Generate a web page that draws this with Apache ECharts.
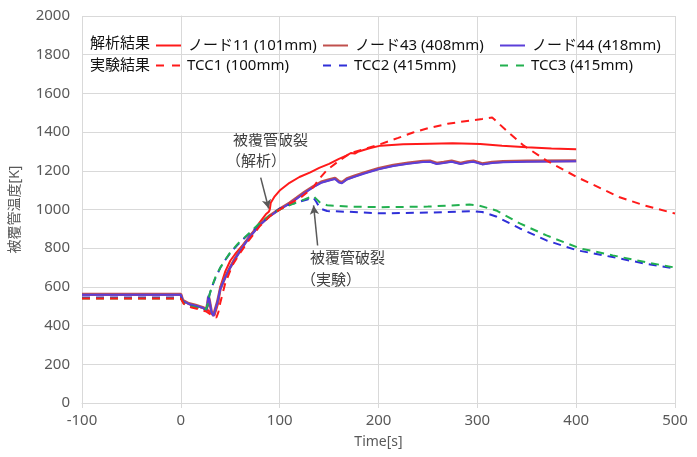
<!DOCTYPE html>
<html><head><meta charset="utf-8">
<script src="https://cdn.jsdelivr.net/npm/echarts@6/dist/echarts.min.js"></script>
<style>html,body{margin:0;padding:0;background:#fff}#c{width:697px;height:457px}</style>
</head><body><div id="c"></div>
<script>
// ---- data (time [s], temperature [K]) ----
const xTicks = [-100, 0, 100, 200, 300, 400, 500];
const yTicks = [0, 200, 400, 600, 800, 1000, 1200, 1400, 1600, 1800, 2000];
const seriesNames = ['ノード11 (101mm)', 'ノード43 (408mm)', 'ノード44 (418mm)', 'TCC1 (100mm)', 'TCC2 (415mm)', 'TCC3 (415mm)'];
const node11 = [[-100,560],[0,560],[2,528],[8,512],[15,503],[22,492],[28,478],[31,462],[34,452],[36,450],[38,520],[40,600],[45,680],[50,735],[55,770],[60,800],[70,860],[80,935],[86,975],[89,988],[90,1000],[91,1035],[95,1068],[100,1098],[110,1138],[120,1168],[131,1192],[140,1215],[150,1236],[160,1262],[168,1280],[172,1292],[176,1289],[180,1300],[190,1315],[202,1330],[225,1337],[252,1340],[275,1342],[303,1338],[325,1330],[350,1322],[375,1315],[400,1312]];
const node43 = [[-100,562],[0,562],[2,530],[8,514],[15,505],[22,494],[26,484],[27,512],[28,550],[29,528],[31,472],[33,452],[35,457],[37,522],[40,592],[45,652],[50,702],[55,748],[60,788],[65,828],[70,863],[80,923],[90,968],[100,1003],[110,1034],[117,1059],[125,1089],[134,1119],[142,1142],[150,1154],[156,1162],[160,1145],[163,1140],[168,1159],[175,1172],[185,1189],[200,1212],[215,1229],[230,1240],[245,1249],[252,1251],[259,1239],[266,1244],[274,1251],[283,1239],[290,1247],[296,1251],[305,1237],[315,1244],[326,1248],[350,1251],[400,1252]];
const node44 = [[-100,560],[0,560],[2,528],[8,512],[15,503],[22,492],[26,482],[27,515],[28,555],[29,530],[31,470],[33,450],[35,455],[37,520],[40,590],[45,650],[50,700],[55,745],[60,785],[65,825],[70,860],[80,920],[90,965],[100,1000],[110,1030],[117,1055],[125,1085],[134,1115],[142,1138],[150,1150],[156,1158],[160,1140],[163,1136],[168,1155],[175,1168],[185,1185],[200,1208],[215,1225],[230,1236],[245,1245],[252,1247],[259,1235],[266,1240],[274,1247],[283,1235],[290,1243],[296,1247],[305,1233],[315,1240],[326,1244],[350,1247],[400,1249]];
const tcc1 = [[-100,540],[0,540],[3,512],[10,495],[20,482],[26,472],[30,458],[33,446],[36,442],[38,470],[40,520],[45,620],[52,710],[60,775],[68,835],[80,915],[90,965],[97,990],[110,1030],[121,1060],[128,1090],[134,1115],[140,1158],[148,1205],[161,1255],[171,1290],[185,1312],[202,1338],[220,1370],[235,1398],[250,1420],[270,1443],[293,1460],[305,1468],[315,1476],[330,1405],[347,1330],[370,1253],[401,1167],[444,1063],[470,1020],[500,979]];
const tcc2 = [[-100,545],[0,545],[3,518],[10,502],[18,490],[25,480],[27,500],[28,540],[31,595],[35,645],[40,700],[45,740],[50,775],[57,815],[65,855],[80,925],[94,983],[100,1005],[110,1025],[120,1040],[128,1052],[134,1062],[137,1040],[141,1005],[148,992],[170,988],[202,980],[250,984],[296,991],[305,987],[319,964],[343,902],[370,840],[401,789],[437,754],[470,720],[500,695]];
const tcc3 = [[-100,540],[0,540],[3,515],[10,500],[18,490],[25,482],[27,505],[29,560],[32,610],[35,650],[40,700],[45,740],[50,778],[58,825],[70,882],[80,930],[94,985],[100,1000],[114,1030],[124,1050],[130,1062],[134,1070],[137,1055],[141,1035],[148,1022],[170,1015],[202,1012],[250,1015],[292,1026],[302,1020],[319,995],[343,928],[370,866],[404,799],[437,763],[470,728],[500,700]];
const arrowAnalysis = [[80.8,1165],[88.9,1005]];
const arrowExperiment = [[138.4,814],[134.3,1021]];

const chart = echarts.init(document.getElementById('c'), null, {renderer:'canvas'});
const FONT = "'Noto Sans', 'Noto Sans CJK JP', sans-serif";
const gridCol = '#d9d9d9', labCol = '#595959';
const colors = ['#ff1a1a', '#c0504d', '#5b3fd9', '#ff1a1a', '#2f2fd8', '#22b04f'];
const dashed = [8, 6];
const solidIcon = 'path://M0,0H25V2H0Z';
const dashIcon = 'path://M0,0H8V2H0Z M16,0H24V2H16Z';
function mkSeries(i, data, dash, extra) {
  return Object.assign({
    name: seriesNames[i], type: 'line', data: data, symbol: 'none', smooth: false,
    lineStyle: {color: colors[i], width: 2, type: dash ? dashed : 'solid'},
    itemStyle: {color: colors[i]}, z: 3
  }, extra || {});
}
function mkLegend(i, left, top, dash) {
  return {data: [{name: seriesNames[i], icon: dash ? dashIcon : solidIcon}], left: left, top: top,
    itemWidth: dash ? 24 : 25, itemHeight: 2, itemGap: 6,
    textStyle: {fontSize: 15, color: '#111', fontFamily: FONT, padding: [0,0,0,2]}, padding: 0, selectedMode: false};
}
const arrowStyle = {color: '#595959', width: 1.5, type: 'solid'};
chart.setOption({
  animation: false,
  textStyle: {fontFamily: FONT},
  grid: {left: 81, right: 22, top: 16, bottom: 54},
  xAxis: {type: 'value', min: xTicks[0], max: xTicks[xTicks.length-1], interval: 100,
    name: 'Time[s]', nameLocation: 'middle', nameGap: 32,
    nameTextStyle: {color: labCol, fontSize: 14, fontFamily: FONT},
    axisLine: {show: true, lineStyle: {color: gridCol, width: 1}},
    axisTick: {show: true, inside: false, length: 5, lineStyle: {color: gridCol}},
    splitLine: {show: true, lineStyle: {color: gridCol, width: 1}},
    axisLabel: {color: labCol, fontSize: 15, margin: 10, fontFamily: FONT, formatter: v => String(v)}},
  yAxis: {type: 'value', min: yTicks[0], max: yTicks[yTicks.length-1], interval: 200,
    name: '被覆管温度[K]', nameLocation: 'middle', nameGap: 60, nameRotate: 90,
    nameTextStyle: {color: labCol, fontSize: 14, fontFamily: FONT},
    axisLine: {show: true, lineStyle: {color: gridCol, width: 1}},
    axisTick: {show: true, inside: false, length: 5, lineStyle: {color: gridCol}},
    splitLine: {show: true, lineStyle: {color: gridCol, width: 1}},
    axisLabel: {color: labCol, fontSize: 15, margin: 12, fontFamily: FONT, formatter: v => String(v)}},
  legend: [mkLegend(0,156,38,false), mkLegend(1,323,38,false), mkLegend(2,500,38,false),
           mkLegend(3,156,58,true), mkLegend(4,323,58,true), mkLegend(5,500,58,true)],
  graphic: [
    {type:'text', left: 90, top: 36, style:{text:'解析結果', fontSize: 15, fill:'#111', fontFamily: FONT}},
    {type:'text', left: 90, top: 58, style:{text:'実験結果', fontSize: 15, fill:'#111', fontFamily: FONT}},
    {type:'text', left: 233, top: 133, style:{text:'被覆管破裂', fontSize: 15, fill:'#404040', fontFamily: FONT}},
    {type:'text', left: 226, top: 154, style:{text:'（解析）', fontSize: 15, fill:'#404040', fontFamily: FONT}},
    {type:'text', left: 310, top: 251, style:{text:'被覆管破裂', fontSize: 15, fill:'#404040', fontFamily: FONT}},
    {type:'text', left: 301, top: 273, style:{text:'（実験）', fontSize: 15, fill:'#404040', fontFamily: FONT}}
  ],
  series: [
    mkSeries(0, node11, false, {markLine: {silent: true, symbol: ['none','arrow'], symbolSize: [7,9], label:{show:false}, lineStyle: arrowStyle,
      emphasis: {disabled: true},
      data: [[{coord: arrowAnalysis[0]}, {coord: arrowAnalysis[1]}], [{coord: arrowExperiment[0]}, {coord: arrowExperiment[1]}]]}}),
    mkSeries(1, node43, false, {lineStyle: {color: colors[1], width: 3}}),
    mkSeries(2, node44, false),
    mkSeries(4, tcc2, true),
    mkSeries(5, tcc3, true),
    mkSeries(3, tcc1, true)
  ]
});
</script></body></html>
